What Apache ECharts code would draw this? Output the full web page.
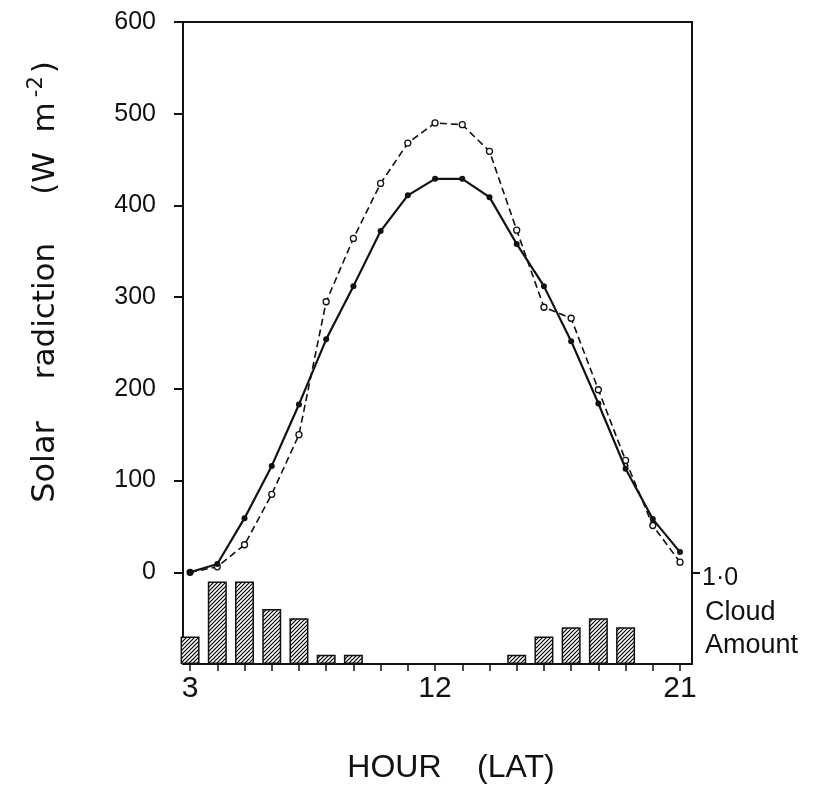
<!DOCTYPE html>
<html>
<head>
<meta charset="utf-8">
<script src="https://cdn.jsdelivr.net/npm/echarts@6/dist/echarts.min.js"></script>
<style>
  html, body { margin: 0; padding: 0; background: #fff; }
  #chart { width: 830px; height: 787px; }
</style>
</head>
<body>
<div id="chart"></div>
<script>
// hours (LAT)
var hours = [3, 4, 5, 6, 7, 8, 9, 10, 11, 12, 13, 14, 15, 16, 17, 18, 19, 20, 21];
// solid line, filled dots
var solarA = [0, 9, 59, 116, 183, 254, 312, 372, 411, 429, 429, 409, 358, 312, 252, 184, 113, 58, 22];
// dashed line, open dots
var solarB = [0, 6, 30, 85, 150, 295, 364, 424, 468, 490, 488, 459, 373, 289, 277, 199, 122, 51, 11];
// cloud amount bars
var cloudHours = [3, 4, 5, 6, 7, 8, 9, 15, 16, 17, 18, 19];
var cloudAmount = [0.3, 0.9, 0.9, 0.6, 0.5, 0.1, 0.1, 0.1, 0.3, 0.4, 0.5, 0.4];
// tick labels
var xLabels = [3, 12, 21];
var yLabels = [0, 100, 200, 300, 400, 500, 600];

function pair(xs, ys) {
  return xs.map(function (x, i) { return [x, ys[i]]; });
}

// hatch pattern for the cloud bars
function hatch() {
  var c = document.createElement('canvas');
  c.width = 4; c.height = 4;
  var g = c.getContext('2d');
  g.fillStyle = '#fff';
  g.fillRect(0, 0, 4, 4);
  g.strokeStyle = '#000';
  g.lineWidth = 1.2;
  g.beginPath();
  g.moveTo(-1, 5); g.lineTo(5, -1);
  g.moveTo(-1, 1); g.lineTo(1, -1);
  g.moveTo(3, 5); g.lineTo(5, 3);
  g.stroke();
  return c;
}

var ink = '#111';
var font = 'Liberation Sans';
var titleFont = 'DejaVu Sans';

var myChart = echarts.init(document.getElementById('chart'));
var option = {
  backgroundColor: '#fff',
  animation: false,
  grid: { left: 183, right: 138, top: 22, bottom: 123 },
  xAxis: [{
    type: 'value',
    position: 'bottom',
    min: 2.74,
    max: 21.44,
    axisLine: { onZero: false, lineStyle: { color: ink, width: 2 } },
    axisTick: { customValues: hours, length: 7, lineStyle: { color: ink, width: 1.5 } },
    axisLabel: { customValues: xLabels, color: ink, fontFamily: font, fontSize: 30, margin: 10 },
    splitLine: { show: false }
  }, {
    type: 'value',
    position: 'top',
    min: 2.74,
    max: 21.44,
    axisLine: { onZero: false, lineStyle: { color: ink, width: 2 } },
    axisTick: { show: false },
    axisLabel: { show: false },
    splitLine: { show: false }
  }],
  yAxis: [{
    type: 'value',
    position: 'left',
    min: -100,
    max: 600,
    axisLine: { show: true, onZero: false, lineStyle: { color: ink, width: 2 } },
    axisTick: { show: true, customValues: yLabels, length: 9, lineStyle: { color: ink, width: 2 } },
    axisLabel: { customValues: yLabels, color: ink, fontFamily: font, fontSize: 25, margin: 27 },
    splitLine: { show: false }
  }, {
    type: 'value',
    position: 'right',
    min: 0,
    max: 7,
    axisLine: { show: true, onZero: false, lineStyle: { color: ink, width: 2 } },
    axisTick: { show: true, customValues: [1], length: 8, lineStyle: { color: ink, width: 2 } },
    axisLabel: {
      customValues: [1], margin: 10,
      formatter: function () { return '{a|1·0}'; },
      rich: { a: { color: ink, fontFamily: font, fontSize: 25, padding: [12, 0, 0, 0] } }
    },
    splitLine: { show: false }
  }],
  graphic: [
    { type: 'text', x: 46, y: 462, rotation: Math.PI / 2,
      style: { text: 'Solar', fill: ink, font: '32px "DejaVu Sans"', align: 'center', verticalAlign: 'middle' } },
    { type: 'text', x: 46, y: 311, rotation: Math.PI / 2,
      style: { text: 'radiction', fill: ink, font: '31px "DejaVu Sans"', align: 'center', verticalAlign: 'middle' } },
    { type: 'text', x: 46, y: 128, rotation: Math.PI / 2,
      style: {
        text: '{a|(W  m}{s|-2}{a|)}', align: 'center', verticalAlign: 'middle',
        rich: {
          a: { fill: ink, fontFamily: titleFont, fontSize: 31 },
          s: { fill: ink, fontFamily: titleFont, fontSize: 21, padding: [0, 3, 18, 5] }
        }
      } },
    { type: 'text', x: 705, y: 613,
      style: { text: 'Cloud', fill: ink, font: '27px "Liberation Sans"', align: 'left', verticalAlign: 'middle' } },
    { type: 'text', x: 705, y: 646,
      style: { text: 'Amount', fill: ink, font: '27px "Liberation Sans"', align: 'left', verticalAlign: 'middle' } },
    { type: 'text', x: 451, y: 768,
      style: { text: 'HOUR    (LAT)', fill: ink, font: '32px "Liberation Sans"', align: 'center', verticalAlign: 'middle' } }
  ],
  series: [{
    name: 'Cloud amount',
    type: 'bar',
    yAxisIndex: 1,
    barWidth: 19,
    data: pair(cloudHours, cloudAmount),
    itemStyle: {
      color: { image: hatch(), repeat: 'repeat' },
      borderColor: ink,
      borderWidth: 1.5
    },
    z: 1
  }, {
    name: 'Solar B',
    type: 'line',
    data: pair(hours, solarB),
    symbol: 'circle',
    symbolSize: 6,
    itemStyle: { color: '#fff', borderColor: ink, borderWidth: 1.3 },
    lineStyle: { color: ink, width: 1.6, type: [7, 4] },
    z: 3
  }, {
    name: 'Solar A',
    type: 'line',
    data: pair(hours, solarA),
    symbol: 'circle',
    symbolSize: 6,
    itemStyle: { color: ink },
    lineStyle: { color: ink, width: 2.2 },
    z: 4
  }]
};
myChart.setOption(option);
</script>
</body>
</html>
